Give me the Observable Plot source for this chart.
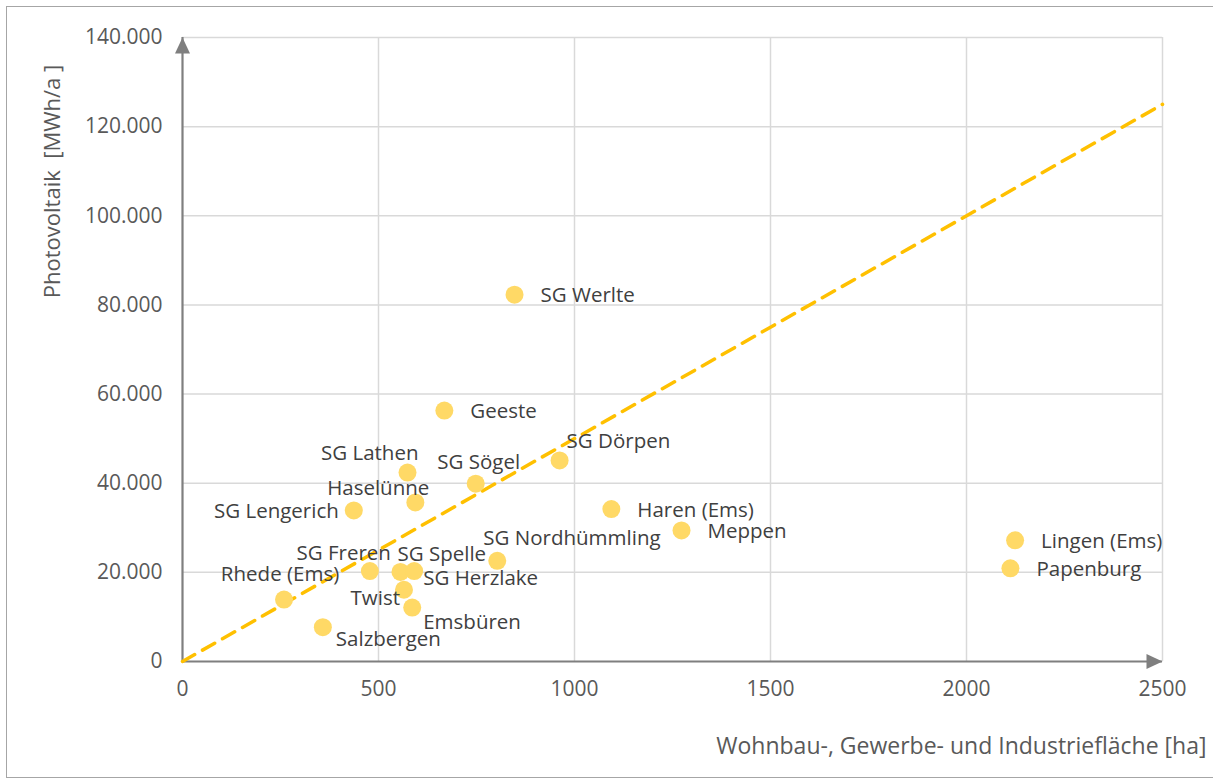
<!DOCTYPE html>
<html><head><meta charset="utf-8">
<script src="https://cdn.jsdelivr.net/npm/d3@7"></script>
<script src="https://cdn.jsdelivr.net/npm/@observablehq/plot@0.6"></script>
<style>
body{margin:0;background:#fff;}
#wrap{position:relative;width:1213px;height:781px;overflow:hidden;background:#fff;}
#chart{position:absolute;left:0;top:0;}
#frame{position:absolute;left:6px;top:6px;width:1230px;height:772px;border:1.5px solid #a6a6a6;box-sizing:border-box;pointer-events:none;}
</style></head><body>
<div id="wrap"><div id="chart"></div><div id="frame"></div></div>
<script>
// Data
const names = ["SG Werlte","Geeste","SG Dörpen","SG Lathen","SG Sögel","Haselünne","SG Lengerich","Haren (Ems)","Meppen","SG Nordhümmling","Lingen (Ems)","Papenburg","SG Freren","SG Spelle","SG Herzlake","Twist","Rhede (Ems)","Emsbüren","Salzbergen"];
const area = [847, 668, 962, 574, 748, 594, 437, 1094, 1273, 803, 2124, 2112, 478, 556, 591, 565, 259, 586, 358];
const pv   = [82300, 56300, 45100, 42400, 39900, 35700, 33900, 34200, 29400, 22600, 27200, 20900, 20300, 20100, 20300, 16100, 13900, 12100, 7700];
const trendX = [0, 2500];
const trendY = [0, 125000];
const xTicks = [0, 500, 1000, 1500, 2000, 2500];
const yTicks = [0, 20000, 40000, 60000, 80000, 100000, 120000, 140000];
const xTitle = "Wohnbau-, Gewerbe- und Industriefläche [ha]";
const yTitle = "Photovoltaik  [MWh/a ]";

// Label placement (styling only)
const placement = {
  "SG Werlte": [26, 1, "start"],
  "Geeste": [26, 1, "start"],
  "SG Dörpen": [7, -19, "start"],
  "SG Lathen": [11, -19, "end"],
  "SG Sögel": [3, -21, "middle"],
  "Haselünne": [14, -14, "end"],
  "SG Lengerich": [-15, 1, "end"],
  "Haren (Ems)": [26, 1, "start"],
  "Meppen": [26, 1, "start"],
  "SG Nordhümmling": [-14, -22, "start"],
  "Lingen (Ems)": [26, 1, "start"],
  "Papenburg": [26, 1, "start"],
  "SG Freren": [21, -18, "end"],
  "SG Spelle": [-3, -17, "start"],
  "SG Herzlake": [9, 7, "start"],
  "Twist": [-4, 9, "end"],
  "Rhede (Ems)": [-4, -25, "middle"],
  "Emsbüren": [11, 15, "start"],
  "Salzbergen": [13, 12, "start"]
};

const pts = names.map((n, i) => ({name: n, x: area[i], y: pv[i]}));
const trend = trendX.map((x, i) => ({x, y: trendY[i]}));
const fmt = d3.format(",.0f");
const deFmt = d => fmt(d).replace(/,/g, ".");

const arrowUp = {draw(ctx){ ctx.moveTo(0,0); ctx.lineTo(7.5,16); ctx.lineTo(-7.5,16); ctx.closePath(); }};
const arrowRight = {draw(ctx){ ctx.moveTo(0,0); ctx.lineTo(-16,-7.5); ctx.lineTo(-16,7.5); ctx.closePath(); }};

const FONT = "'Open Sans', sans-serif";

const labelMarks = pts.map(p => {
  const [dx, dy, anchor] = placement[p.name];
  return Plot.text([p], {x: "x", y: "y", text: "name", dx, dy, textAnchor: anchor,
    fill: "#404040", fontSize: 20.5, fontFamily: FONT});
});

const plot = Plot.plot({
  width: 1213,
  height: 781,
  marginLeft: 182,
  marginRight: 51,
  marginTop: 37,
  marginBottom: 120,
  style: {fontFamily: FONT, fontSize: "20px", color: "#595959", background: "transparent"},
  x: {domain: [0, 2500]},
  y: {domain: [0, 140000]},
  marks: [
    Plot.gridX(xTicks.filter(d => d > 0), {stroke: "#d9d9d9", strokeOpacity: 1, strokeWidth: 1.5}),
    Plot.gridY(yTicks.filter(d => d > 0), {stroke: "#d9d9d9", strokeOpacity: 1, strokeWidth: 1.5}),
    Plot.axisX(xTicks, {tickSize: 0, tickPadding: 20, tickFormat: d => String(d), label: null, fill: "#595959", fontSize: 21}),
    Plot.axisY(yTicks, {tickSize: 0, tickPadding: 20, tickFormat: deFmt, label: null, fill: "#595959", fontSize: 21}),
    Plot.ruleY([0], {x1: 0, x2: 2500, stroke: "#7f7f7f", strokeWidth: 2.2}),
    Plot.ruleX([0], {y1: 0, y2: 140000, stroke: "#7f7f7f", strokeWidth: 2.2}),
    Plot.dot([{x: 0, y: 140000}], {x: "x", y: "y", symbol: arrowUp, fill: "#7f7f7f", stroke: null, r: 5}),
    Plot.dot([{x: 2500, y: 0}], {x: "x", y: "y", symbol: arrowRight, fill: "#7f7f7f", stroke: null, r: 5}),
    Plot.line(trend, {x: "x", y: "y", stroke: "#ffc000", strokeWidth: 3.5, strokeDasharray: "14,9"}),
    Plot.dot(pts, {x: "x", y: "y", r: 9, fill: "#ffd966", stroke: null}),
    ...labelMarks,
    Plot.text([xTitle], {frameAnchor: "bottom-right", dx: 44, dy: 92, textAnchor: "end", fill: "#595959", fontSize: 23, fontFamily: FONT}),
    Plot.text([yTitle], {frameAnchor: "top-left", dx: -138, dy: 144, rotate: -90, textAnchor: "middle", fill: "#595959", fontSize: 22, fontFamily: FONT})
  ]
});
document.getElementById("chart").appendChild(plot);
</script>
</body></html>
